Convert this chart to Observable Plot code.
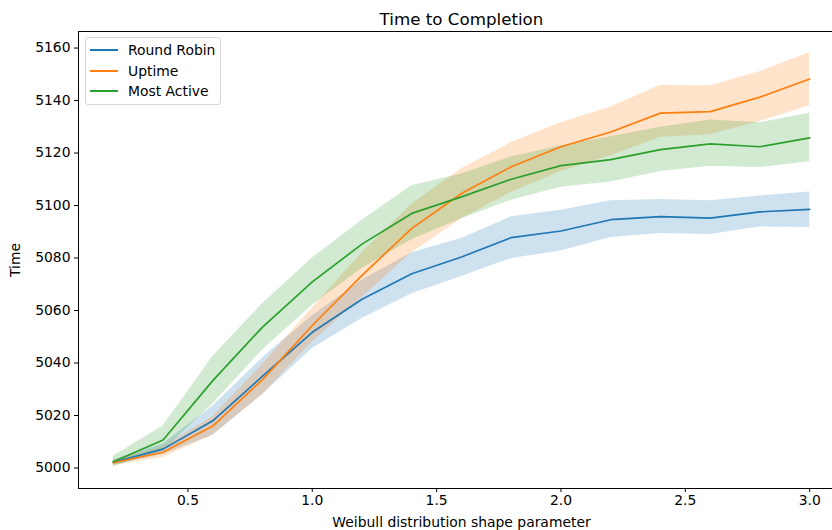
<!DOCTYPE html>
<html>
<head>
<meta charset="utf-8">
<script src="https://cdn.jsdelivr.net/npm/d3@7"></script>
<script src="https://cdn.jsdelivr.net/npm/@observablehq/plot@0.6"></script>
<style>
  html, body { margin: 0; padding: 0; background: white; overflow: hidden; }
  #wrap { position: relative; width: 832px; height: 530px; font-family: "DejaVu Sans", sans-serif; }
  #legend { position: absolute; left: 85px; top: 37px; width: 134px; height: 66px;
    border: 1px solid #d6d6d6; border-radius: 3px; background: rgba(255,255,255,0.8); font-size: 13.9px; color: #000; }
  .row { position: absolute; left: 0; height: 20px; display: flex; align-items: center; white-space: nowrap; }
  .sw { display: inline-block; width: 28px; height: 2px; margin-left: 4px; margin-right: 10px; }
</style>
</head>
<body>
<div id="wrap"></div>
<script>
const shapeParams = [0.2, 0.4, 0.6, 0.8, 1.0, 1.2, 1.4, 1.6, 1.8, 2.0, 2.2, 2.4, 2.6, 2.8, 3.0];
const seriesNames = ["Round Robin", "Uptime", "Most Active"];
const seriesColors = ["#1f77b4", "#ff7f0e", "#2ca02c"];

const rrMean = [5002.2, 5007.2, 5018.0, 5035.0, 5051.7, 5064.3, 5074.0, 5080.4, 5087.8, 5090.3, 5094.6, 5095.8, 5095.2, 5097.6, 5098.5];
const rrLow  = [5001.2, 5005.2, 5012.5, 5028.0, 5045.5, 5057.0, 5066.4, 5073.0, 5079.8, 5082.7, 5087.8, 5089.3, 5089.0, 5091.8, 5091.6];
const rrHigh = [5003.2, 5009.2, 5023.5, 5042.0, 5058.0, 5071.5, 5082.0, 5087.4, 5095.7, 5098.2, 5101.8, 5102.3, 5101.8, 5103.6, 5105.2];

const upMean = [5002.0, 5006.0, 5016.0, 5033.7, 5054.3, 5073.4, 5091.3, 5104.6, 5114.8, 5122.4, 5128.0, 5135.2, 5135.8, 5141.3, 5148.2];
const upLow  = [5001.0, 5004.0, 5012.5, 5028.0, 5048.0, 5065.0, 5082.0, 5095.0, 5105.0, 5113.0, 5119.0, 5126.0, 5127.0, 5132.0, 5138.0];
const upHigh = [5003.0, 5008.0, 5019.5, 5039.5, 5061.0, 5082.0, 5100.5, 5114.0, 5124.0, 5131.5, 5137.5, 5145.8, 5145.6, 5151.0, 5158.3];

const maMean = [5002.4, 5010.7, 5033.3, 5053.7, 5070.9, 5085.3, 5097.0, 5103.3, 5110.0, 5115.2, 5117.5, 5121.3, 5123.5, 5122.4, 5125.8];
const maLow  = [5000.5, 5006.5, 5024.4, 5045.0, 5062.0, 5076.0, 5087.0, 5095.0, 5102.0, 5107.0, 5109.0, 5113.0, 5115.0, 5114.5, 5116.7];
const maHigh = [5004.5, 5016.0, 5042.5, 5062.6, 5080.0, 5094.4, 5107.5, 5112.0, 5118.5, 5122.8, 5126.2, 5129.8, 5132.6, 5131.5, 5135.2];

const xTicks = [0.5, 1.0, 1.5, 2.0, 2.5, 3.0];
const yTicks = [5000, 5020, 5040, 5060, 5080, 5100, 5120, 5140, 5160];

const seriesData = [[rrMean, rrLow, rrHigh], [upMean, upLow, upHigh], [maMean, maLow, maHigh]];
const rows = [];
seriesData.forEach(([m, lo, hi], si) => {
  shapeParams.forEach((x, i) => rows.push({x, series: seriesNames[si], mean: m[i], low: lo[i], high: hi[i]}));
});

const chart = Plot.plot({
  width: 832, height: 530,
  marginLeft: 78, marginRight: -12, marginTop: 31, marginBottom: 42,
  style: {fontFamily: "DejaVu Sans, sans-serif", fontSize: "13.9px", color: "black", background: "white"},
  x: {domain: [0.06, 3.14]},
  y: {domain: [4992.2, 5166.3]},
  color: {domain: seriesNames, range: seriesColors},
  marks: [
    Plot.areaY(rows, {x: "x", y1: "low", y2: "high", fill: "series", fillOpacity: 0.22, z: "series"}),
    Plot.line(rows, {x: "x", y: "mean", stroke: "series", strokeWidth: 1.7, z: "series"}),
    Plot.frame({stroke: "black", strokeWidth: 1}),
    Plot.axisX({ticks: xTicks, tickFormat: d3.format(".1f"), tickSize: 4, tickPadding: 3,
      label: "Weibull distribution shape parameter", labelAnchor: "center", labelArrow: "none", labelOffset: 38}),
    Plot.axisY({ticks: yTicks, tickFormat: d3.format("d"), tickSize: 4, tickPadding: 4,
      label: "Time", labelAnchor: "center", labelArrow: "none", labelOffset: 68}),
    Plot.text(["Time to Completion"], {frameAnchor: "top", lineAnchor: "bottom", dy: -7, fontSize: 16.7, fill: "black"})
  ]
});

const wrap = document.getElementById("wrap");
wrap.appendChild(chart);

const legend = document.createElement("div");
legend.id = "legend";
seriesNames.forEach((name, i) => {
  const r = document.createElement("div");
  r.className = "row";
  r.style.top = (2 + i * 20.5) + "px";
  const sw = document.createElement("span");
  sw.className = "sw";
  sw.style.background = seriesColors[i];
  const t = document.createElement("span");
  t.textContent = name;
  r.appendChild(sw); r.appendChild(t);
  legend.appendChild(r);
});
wrap.appendChild(legend);
</script>
</body>
</html>
